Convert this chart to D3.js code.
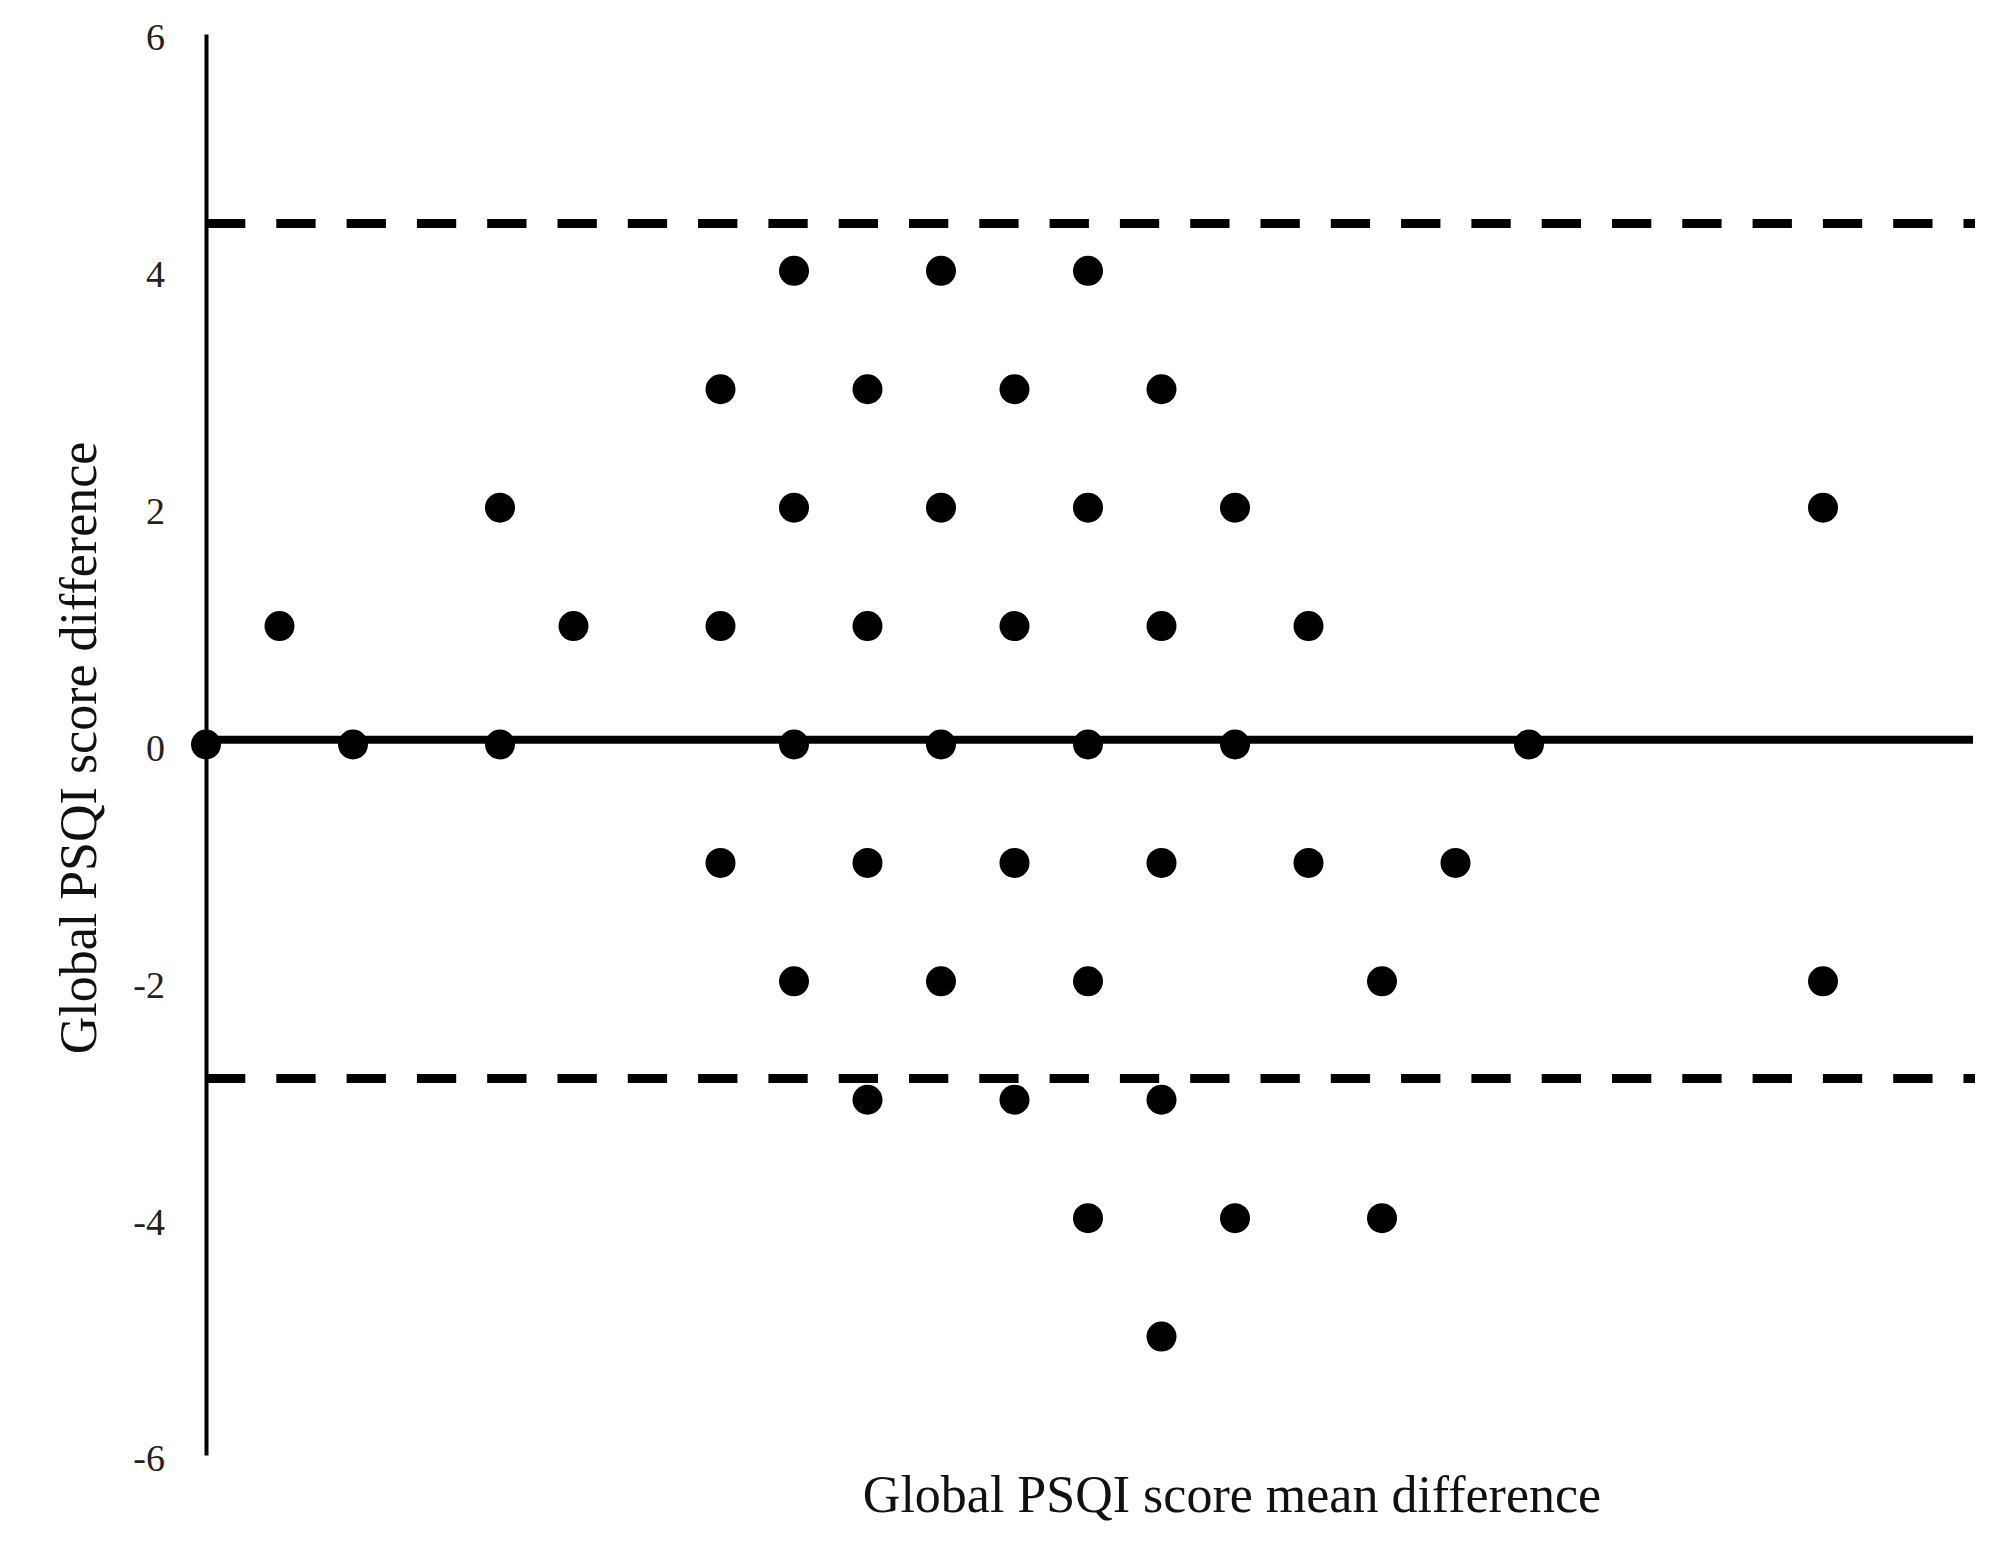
<!DOCTYPE html>
<html>
<head>
<meta charset="utf-8">
<script src="https://cdn.jsdelivr.net/npm/d3@7"></script>
<style>
  html, body { margin: 0; padding: 0; background: #fff; }
  svg { display: block; }
</style>
</head>
<body>
<script>
// Bland-Altman data: mean of the two global PSQI scores vs. their difference
const meanScore = [
  4, 5, 6,
  3.5, 4.5, 5.5, 6.5,
  2, 4, 5, 6, 7, 11,
  0.5, 2.5, 3.5, 4.5, 5.5, 6.5, 7.5,
  0, 1, 2, 4, 5, 6, 7, 9,
  3.5, 4.5, 5.5, 6.5, 7.5, 8.5,
  4, 5, 6, 8, 11,
  4.5, 5.5, 6.5,
  6, 7, 8,
  6.5
];
const scoreDiff = [
  4, 4, 4,
  3, 3, 3, 3,
  2, 2, 2, 2, 2, 2,
  1, 1, 1, 1, 1, 1, 1,
  0, 0, 0, 0, 0, 0, 0, 0,
  -1, -1, -1, -1, -1, -1,
  -2, -2, -2, -2, -2,
  -3, -3, -3,
  -4, -4, -4,
  -5
];
const meanBias = [0.04];
const limitsOfAgreement = [4.40, -2.82];
const yTicks = [-6, -4, -2, 0, 2, 4, 6];
const xTitle = "Global PSQI score mean difference";
const yTitle = "Global PSQI score difference";

const W = 2010, H = 1554;
const svg = d3.select("body").append("svg").attr("width", W).attr("height", H);

const x = d3.scaleLinear().domain([0, 12]).range([206, 1970]);
const y = d3.scaleLinear().domain([-6, 6]).range([1455, 34]);

// limits of agreement (dashed)
svg.selectAll("line.loa").data(limitsOfAgreement).enter().append("line")
  .attr("class", "loa")
  .attr("x1", x(0)).attr("x2", x(12) + 5)
  .attr("y1", d => y(d)).attr("y2", d => y(d))
  .attr("stroke", "#000").attr("stroke-width", 9)
  .attr("stroke-dasharray", "39.3,31");

// mean bias line
svg.selectAll("line.bias").data(meanBias).enter().append("line")
  .attr("class", "bias")
  .attr("x1", x(0)).attr("x2", x(12) + 3)
  .attr("y1", d => y(d)).attr("y2", d => y(d))
  .attr("stroke", "#000").attr("stroke-width", 8);

// y axis (line + labels only)
const yAxis = d3.axisLeft(y).tickValues(yTicks).tickSize(0).tickPadding(41)
  .tickFormat(d => String(d));
const gy = svg.append("g").attr("transform", `translate(${x(0)},0)`).call(yAxis);
gy.select(".domain").attr("stroke", "#000").attr("stroke-width", 4);
gy.selectAll(".tick text")
  .attr("font-family", "'Liberation Serif', 'Times New Roman', serif")
  .attr("font-size", 38)
  .attr("fill", "#222")
  .attr("dy", "0.42em");

// points
svg.selectAll("circle.pt").data(meanScore.map((m, i) => [m, scoreDiff[i]]))
  .enter().append("circle")
  .attr("class", "pt")
  .attr("cx", d => x(d[0])).attr("cy", d => y(d[1]))
  .attr("r", 15).attr("fill", "#000");

// axis titles
svg.append("text")
  .attr("x", 1232).attr("y", 1512)
  .attr("text-anchor", "middle")
  .attr("font-family", "'Liberation Serif', 'Times New Roman', serif")
  .attr("font-size", 52).attr("fill", "#111")
  .text(xTitle);

svg.append("text")
  .attr("transform", "translate(96,748) rotate(-90)")
  .attr("text-anchor", "middle")
  .attr("font-family", "'Liberation Serif', 'Times New Roman', serif")
  .attr("font-size", 52).attr("fill", "#111")
  .text(yTitle);
</script>
</body>
</html>
